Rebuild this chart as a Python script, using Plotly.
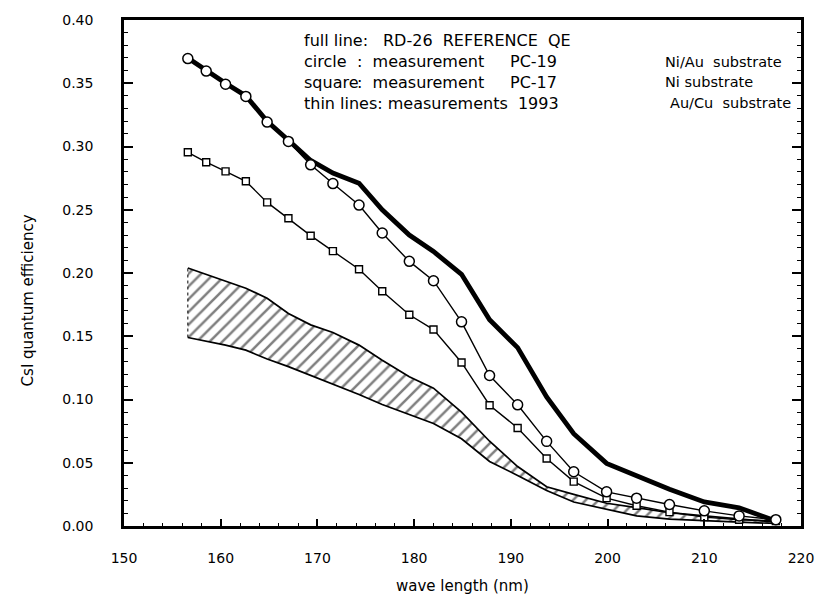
import plotly.graph_objects as go

# Wavelength grid (nm)
wl = [156.6, 158.5, 160.5, 162.6, 164.8, 167.0, 169.3, 171.6, 174.3, 176.7, 179.5, 182.0,
      184.9, 187.8, 190.7, 193.7, 196.5, 199.9, 203.0, 206.4, 210.0, 213.6, 217.4]

# RD-26 reference QE (full thick line)
ref_qe = [0.370, 0.360, 0.350, 0.340, 0.320, 0.305, 0.289, 0.279, 0.271, 0.250, 0.230, 0.217,
          0.199, 0.163, 0.141, 0.102, 0.073, 0.0495, 0.040, 0.029, 0.019, 0.0144, 0.004]

# circle: measurement PC-19 (Ni/Au substrate)
pc19 = [0.3695, 0.3596, 0.3492, 0.3396, 0.3193, 0.304, 0.2855, 0.2707, 0.2537, 0.2316, 0.2092, 0.1939,
        0.1614, 0.119, 0.0958, 0.0669, 0.0429, 0.027, 0.022, 0.017, 0.012, 0.008, 0.005]

# square: measurement PC-17 (Ni substrate)
pc17 = [0.2954, 0.2876, 0.2803, 0.2725, 0.2558, 0.2433, 0.2295, 0.2173, 0.203, 0.1856, 0.167, 0.1553,
        0.1293, 0.0955, 0.0775, 0.0534, 0.0351, 0.022, 0.016, 0.011, 0.007, 0.005, 0.004]

# thin lines: measurements 1993 (Au/Cu substrate) - band limits
band_hi = [0.204, 0.199, 0.194, 0.188, 0.180, 0.168, 0.159, 0.153, 0.143, 0.131, 0.118, 0.109,
           0.090, 0.067, 0.047, 0.031, 0.025, 0.018, 0.0145, 0.0105, 0.008, 0.0055, 0.003]
band_lo = [0.149, 0.146, 0.143, 0.139, 0.132, 0.126, 0.119, 0.112, 0.104, 0.096, 0.088, 0.081,
           0.069, 0.051, 0.040, 0.028, 0.019, 0.0135, 0.008, 0.0055, 0.004, 0.003, 0.002]

x_ticks = [150, 160, 170, 180, 190, 200, 210, 220]
y_ticks = [0.00, 0.05, 0.10, 0.15, 0.20, 0.25, 0.30, 0.35, 0.40]

FONT = "DejaVu Sans"
NB = "\u00a0"

fig = go.Figure()

# hatched band
fig.add_trace(go.Scatter(x=wl, y=band_lo, mode="lines",
                         line=dict(color="black", width=1.7), showlegend=False, hoverinfo="skip"))
fig.add_trace(go.Scatter(x=wl, y=band_hi, mode="lines", fill="tonexty",
                         fillcolor="rgba(255,255,255,0)",
                         fillpattern=dict(shape="/", fgcolor="black", bgcolor="white",
                                          size=9, solidity=0.28),
                         line=dict(color="black", width=1.7), showlegend=False, hoverinfo="skip"))
# dotted left edge of band
fig.add_trace(go.Scatter(x=[wl[0], wl[0]], y=[band_lo[0], band_hi[0]], mode="lines",
                         line=dict(color="black", width=1, dash="dot"), showlegend=False))

# reference thick line
fig.add_trace(go.Scatter(x=wl, y=ref_qe, mode="lines",
                         line=dict(color="black", width=4.8), showlegend=False))

# squares
fig.add_trace(go.Scatter(x=wl, y=pc17, mode="lines+markers",
                         line=dict(color="black", width=1.4),
                         marker=dict(symbol="square", size=7, color="white",
                                     line=dict(color="black", width=1.4)),
                         showlegend=False))
# circles
fig.add_trace(go.Scatter(x=wl, y=pc19, mode="lines+markers",
                         line=dict(color="black", width=1.4),
                         marker=dict(symbol="circle", size=10, color="white",
                                     line=dict(color="black", width=1.5)),
                         showlegend=False))

L, R, T, B = 124, 20, 14, 80
W, H = 826, 606
PW, PH = W - L - R, H - T - B


def px(xp):
    return (xp - L) / PW


def py(yp):
    return (H - B - yp) / PH


annotations = []


def txt(s, xp, yp, size=16):
    annotations.append(dict(text=s, x=px(xp), y=py(yp), xref="paper", yref="paper",
                            xanchor="left", yanchor="middle", showarrow=False,
                            font=dict(family=FONT, size=size, color="black")))


# legend text block
txt("full line:", 303, 35)
txt("RD-26" + NB * 2 + "REFERENCE" + NB * 2 + "QE", 383, 35)

txt("circle", 303, 56)
txt(":" + NB * 2 + "measurement", 357, 56)
txt("PC-19", 511, 56)
txt("Ni/Au" + NB * 2 + "substrate", 667, 56, 14.5)

txt("square", 303, 77)
txt(":" + NB * 2 + "measurement", 357, 77)
txt("PC-17", 511, 77)
txt("Ni" + NB + "substrate", 667, 77, 14.5)

txt("thin lines:" + NB + "measurements" + NB * 2 + "1993", 303, 98)
txt("Au/Cu" + NB * 2 + "substrate", 672, 98, 14.5)

# axis titles
annotations.append(dict(text="wave length (nm)", x=px(465), y=py(587), xref="paper", yref="paper",
                        xanchor="center", yanchor="middle", showarrow=False,
                        font=dict(family=FONT, size=15, color="black")))
annotations.append(dict(text="CsI" + NB + "quantum" + NB + "efficiency", x=px(27), y=py(298),
                        xref="paper", yref="paper",
                        xanchor="center", yanchor="middle", showarrow=False, textangle=-90,
                        font=dict(family=FONT, size=15, color="black")))

fig.update_layout(
    width=W, height=H,
    margin=dict(l=L, r=R, t=T, b=B),
    paper_bgcolor="white", plot_bgcolor="white",
    font=dict(family=FONT, size=14, color="black"),
    showlegend=False,
    annotations=annotations,
    xaxis=dict(range=[150, 220], tickvals=x_ticks, ticktext=[str(v) for v in x_ticks],
               ticks="inside", ticklen=7, tickwidth=1.5, tickcolor="black",
               minor=dict(dtick=2, ticks="inside", ticklen=3.5, tickwidth=1.3, tickcolor="black"),
               showline=True, linecolor="black", linewidth=2.5, mirror=True,
               showgrid=False, zeroline=False, ticklabelstandoff=17,
               tickfont=dict(family=FONT, size=14)),
    yaxis=dict(range=[0, 0.4], tickvals=y_ticks, ticktext=["%.2f" % v for v in y_ticks],
               ticks="inside", ticklen=9, tickwidth=1.5, tickcolor="black",
               minor=dict(dtick=0.01, ticks="inside", ticklen=4, tickwidth=1.3, tickcolor="black"),
               showline=True, linecolor="black", linewidth=2.5, mirror="ticks",
               showgrid=False, zeroline=False, ticklabelstandoff=25,
               tickfont=dict(family=FONT, size=14)),
)

fig.write_html("out.html")
